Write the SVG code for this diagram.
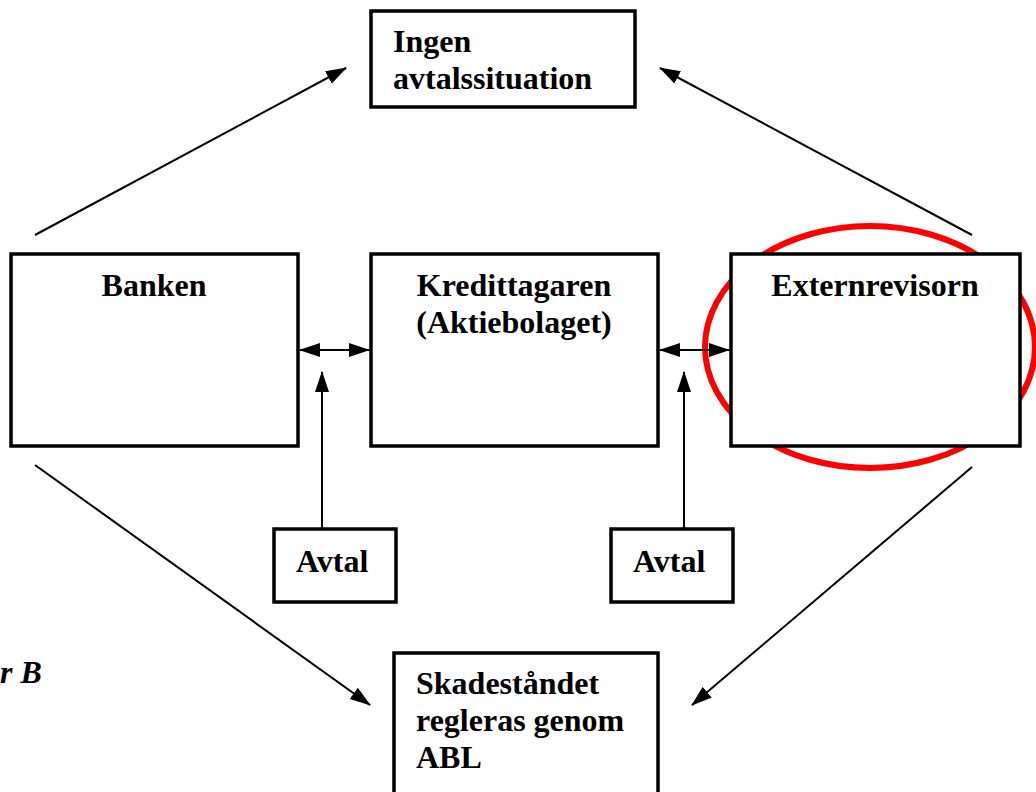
<svg xmlns="http://www.w3.org/2000/svg" width="1036" height="792" viewBox="0 0 1036 792">
<style>
.box{fill:#fff;stroke:#000;stroke-width:3.5}
.t{font-family:"Liberation Serif","Times New Roman",serif;font-weight:bold;font-size:32px;fill:#000}
.c{stroke:#000;stroke-width:2;fill:none}
</style>
<defs>
<marker id="ah" markerUnits="userSpaceOnUse" markerWidth="22" markerHeight="16" refX="20" refY="8" orient="auto-start-reverse" viewBox="0 0 22 16">
<path d="M0,1 L21,8 L0,15 Z" fill="#000"/>
</marker>
</defs>
<rect width="1036" height="792" fill="#fff"/>
<g id="highlight">
<ellipse cx="870" cy="347" rx="165" ry="121" fill="none" stroke="#ff0000" stroke-width="6"/>
</g>
<g id="connectors">
<line class="c" x1="35" y1="235" x2="346" y2="68" marker-end="url(#ah)"/>
<line class="c" x1="972" y1="235" x2="660" y2="68" marker-end="url(#ah)"/>
<line class="c" x1="35" y1="465" x2="370" y2="705" marker-end="url(#ah)"/>
<line class="c" x1="972" y1="467" x2="692" y2="705" marker-end="url(#ah)"/>
<line class="c" x1="300" y1="350" x2="369" y2="350" marker-start="url(#ah)" marker-end="url(#ah)"/>
<line class="c" x1="660" y1="350" x2="729" y2="350" marker-start="url(#ah)" marker-end="url(#ah)"/>
<line class="c" x1="322" y1="528" x2="322" y2="372" marker-end="url(#ah)"/>
<line class="c" x1="684" y1="528" x2="684" y2="372" marker-end="url(#ah)"/>
</g>
<g id="ingen">
<rect class="box" x="371" y="11" width="264" height="96"/>
<text class="t" x="393" y="52">Ingen</text>
<text class="t" x="393" y="89">avtalssituation</text>
</g>
<g id="banken">
<rect class="box" x="11" y="254" width="287" height="192"/>
<text class="t" x="154" y="296" text-anchor="middle">Banken</text>
</g>
<g id="kredittagaren">
<rect class="box" x="371" y="254" width="287" height="192"/>
<text class="t" x="514" y="296" text-anchor="middle">Kredittagaren</text>
<text class="t" x="514" y="333" text-anchor="middle">(Aktiebolaget)</text>
</g>
<g id="externrevisorn">
<rect class="box" x="731" y="254" width="289" height="192"/>
<text class="t" x="875" y="296" text-anchor="middle">Externrevisorn</text>
</g>
<g id="avtal1">
<rect class="box" x="274" y="529" width="122" height="73"/>
<text class="t" x="296" y="572">Avtal</text>
</g>
<g id="avtal2">
<rect class="box" x="611" y="529" width="122" height="73"/>
<text class="t" x="633" y="572">Avtal</text>
</g>
<g id="skadestandet">
<rect class="box" x="394" y="653" width="264" height="150"/>
<text class="t" x="416" y="694">Skadeståndet</text>
<text class="t" x="416" y="731">regleras genom</text>
<text class="t" x="416" y="768">ABL</text>
</g>
<text class="t" x="0" y="683" font-style="italic">r B</text>
</svg>
